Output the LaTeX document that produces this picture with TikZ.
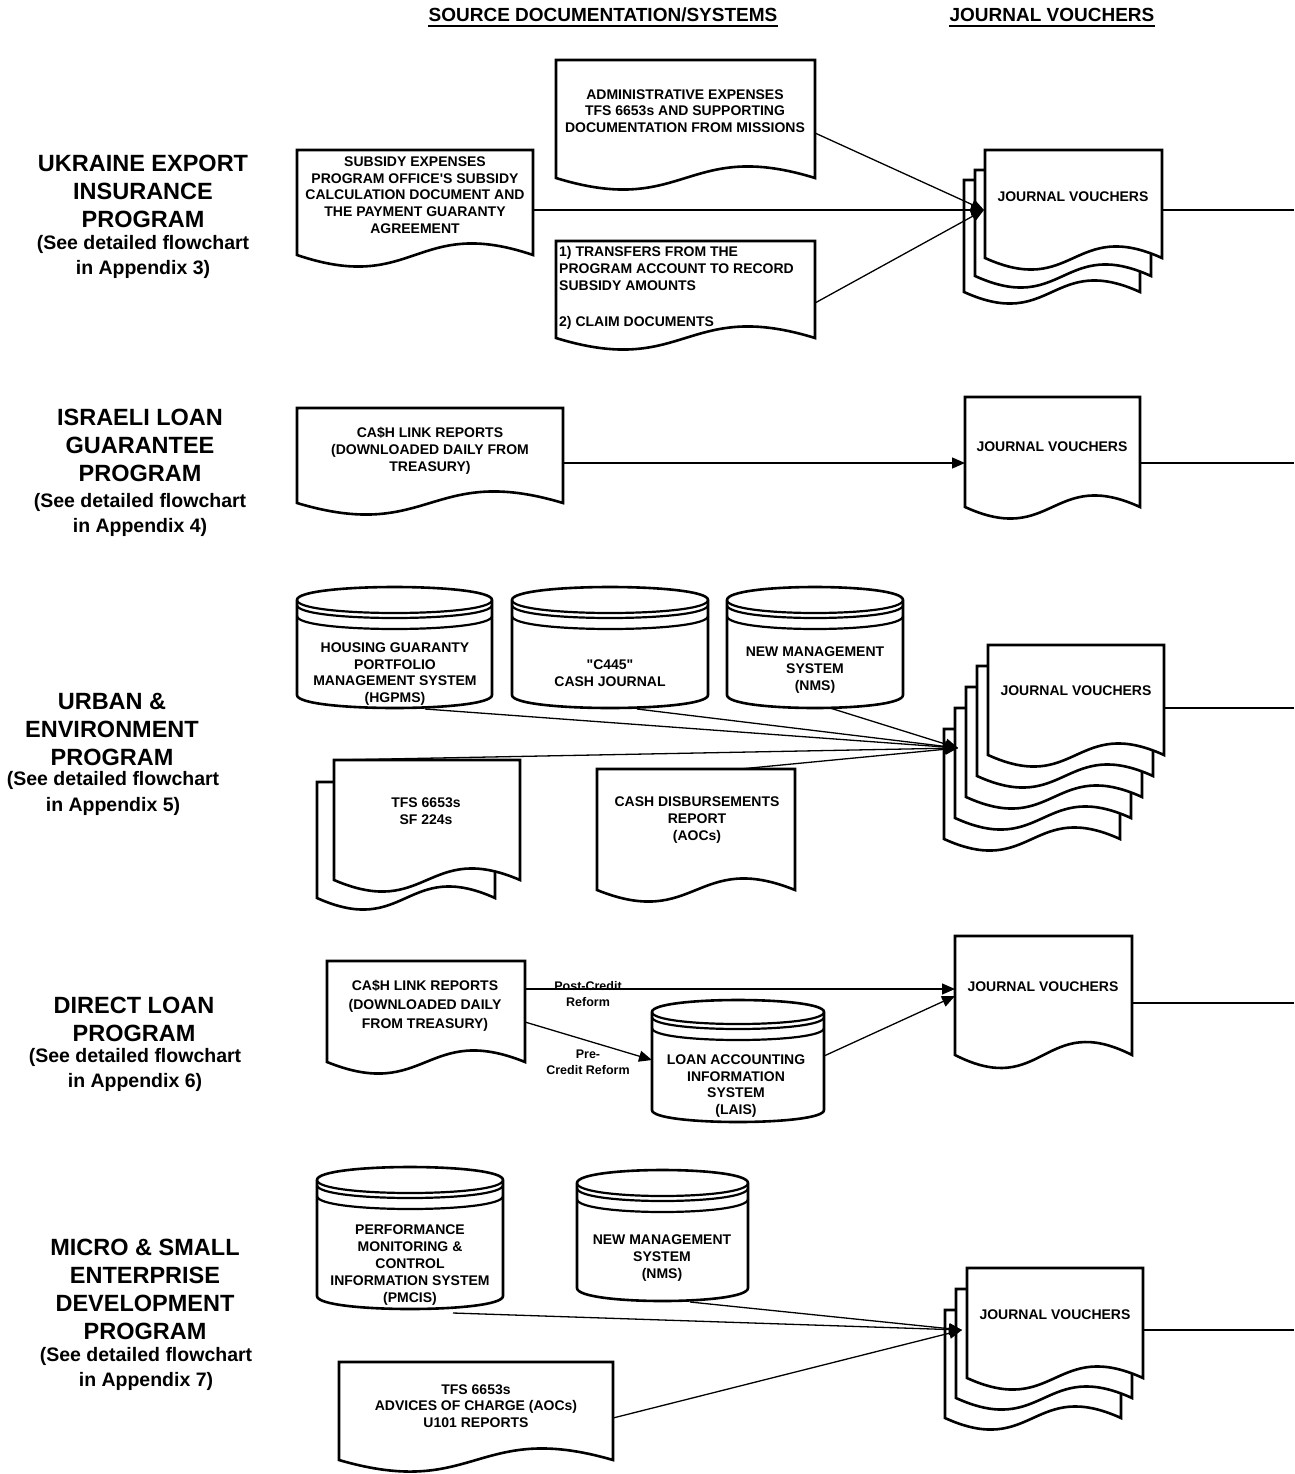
\documentclass[tikz,border=0pt]{standalone}
\usepackage{fontspec}
\setmainfont{Liberation Sans}[Ligatures=TeXOff]
\usetikzlibrary{arrows.meta}
\tikzset{
 shapebox/.style={draw=black, line width=2.6pt, fill=white, line join=miter},
 bandline/.style={draw=black, line width=2.2pt},
 conn/.style={draw=black, line width=1.3pt},
 arr/.style={conn, -{Triangle[length=13pt,width=11pt]}},
 boxtext/.style={font=\bfseries\fontsize{14}{16.8}\selectfont, align=center, inner sep=0pt},
 headtext/.style={font=\bfseries\fontsize{23.5}{28}\selectfont, align=center, inner sep=0pt},
 subtext/.style={font=\bfseries\fontsize{19.5}{25.5}\selectfont, align=center, inner sep=0pt},
 coltext/.style={font=\bfseries\fontsize{19}{22}\selectfont, inner sep=0pt},
 smalltext/.style={font=\bfseries\fontsize{12.5}{16}\selectfont, align=center, inner sep=0pt},
}
% document shape: left, top, right, bottom (side ends), wave control
\newcommand\docshape[5]{%
  \draw[shapebox] (#1,#2) -- (#3,#2) -- (#3,#4)
    .. controls ({(#1+#3)/2},{#4-#5}) and ({(#1+#3)/2},{#4+#5}) .. (#1,#4) -- cycle;}
% cylinder: left, top, right, bottom (side ends), ellipse radius
\newcommand\cylshape[5]{%
  \draw[shapebox] (#1,{#2+#5}) -- (#1,#4)
    .. controls (#1,{#4+1.333*#5}) and (#3,{#4+1.333*#5}) .. (#3,#4)
    -- (#3,{#2+#5})
    .. controls (#3,{#2-0.333*#5}) and (#1,{#2-0.333*#5}) .. cycle;
  \draw[bandline] (#1,{#2+#5}) .. controls (#1,{#2+2.333*#5}) and (#3,{#2+2.333*#5}) .. (#3,{#2+#5});
  \draw[bandline] (#1,{#2+#5+5}) .. controls (#1,{#2+2.333*#5+5}) and (#3,{#2+2.333*#5+5}) .. (#3,{#2+#5+5});
  \draw[bandline] (#1,{#2+#5+16}) .. controls (#1,{#2+2.333*#5+16}) and (#3,{#2+2.333*#5+16}) .. (#3,{#2+#5+16});}
\begin{document}
\begin{tikzpicture}[x=1pt,y=-1pt]
\useasboundingbox (0,0) rectangle (1294,1474);
\fill[white] (0,0) rectangle (1294,1474);

% column headers
\node[coltext] (hsrc) at (603,15) {SOURCE DOCUMENTATION/SYSTEMS};
\node[coltext] (hjv) at (1052,15) {JOURNAL VOUCHERS};
\draw[line width=1.8pt] ([yshift=-4pt]hsrc.south west) -- ([yshift=-4pt]hsrc.south east);
\draw[line width=1.8pt] ([yshift=-4pt]hjv.south west) -- ([yshift=-4pt]hjv.south east);

% ---------- Section 1: Ukraine ----------
\node[headtext] (l1h) at (143,191.5) {UKRAINE EXPORT\\INSURANCE\\PROGRAM};
\node[subtext] (l1s) at (143,257) {(See detailed flowchart\\in Appendix 3)};

\docshape{556}{60}{815}{178}{40}
\node[boxtext] (admtxt) at (685,111) {ADMINISTRATIVE EXPENSES\\TFS 6653s AND SUPPORTING\\DOCUMENTATION FROM MISSIONS};
\docshape{297}{150}{533}{255}{40}
\node[boxtext] (subtxt) at (415,195) {SUBSIDY EXPENSES\\PROGRAM OFFICE'S SUBSIDY\\CALCULATION DOCUMENT AND\\THE PAYMENT GUARANTY\\AGREEMENT};
\docshape{556}{241}{815}{338}{40}
\node[boxtext, align=left, anchor=west] (trftxt) at (559,288) {1) TRANSFERS FROM THE\\PROGRAM ACCOUNT TO RECORD\\SUBSIDY AMOUNTS\\[20pt]2) CLAIM DOCUMENTS};

\docshape{964}{180}{1140}{292}{40}
\docshape{975}{170}{1151}{276}{40}
\docshape{985}{150}{1162}{258}{40}
\node[boxtext] (jv1txt) at (1073,197) {JOURNAL VOUCHERS};

\coordinate (adm-o) at (815,133);
\coordinate (sub-o) at (533,210);
\coordinate (trf-o) at (815,303);
\coordinate (jv1-i) at (984,210);
\coordinate (jv1-o) at (1162,210);
\coordinate (edge1) at (1294,210);
\draw[arr] (adm-o) -- (jv1-i);
\draw[arr] (sub-o) -- (jv1-i);
\draw[arr] (trf-o) -- (jv1-i);
\draw[conn] (jv1-o) -- (edge1);

% ---------- Section 2: Israeli ----------
\node[headtext] (l2h) at (140,445.5) {ISRAELI LOAN\\GUARANTEE\\PROGRAM};
\node[subtext] (l2s) at (140,515) {(See detailed flowchart\\in Appendix 4)};

\docshape{297}{408}{563}{503}{40}
\node[boxtext] (cl1txt) at (430,451) {CA\$H LINK REPORTS\\(DOWNLOADED DAILY FROM\\TREASURY)};
\docshape{965}{397}{1140}{507}{40}
\node[boxtext] (jv2txt) at (1052,447) {JOURNAL VOUCHERS};

\coordinate (cl1-o) at (563,463);
\coordinate (jv2-i) at (965,463);
\coordinate (jv2-o) at (1140,463);
\coordinate (edge2) at (1294,463);
\draw[arr] (cl1-o) -- (jv2-i);
\draw[conn] (jv2-o) -- (edge2);

% ---------- Section 3: Urban ----------
\node[headtext] (l3h) at (112,729.5) {URBAN \&\\ENVIRONMENT\\PROGRAM};
\node[subtext] (l3s) at (113,793.5) {(See detailed flowchart\\in Appendix 5)};

\cylshape{297}{587}{492}{695}{13}
\node[boxtext] (hgtxt) at (395,674) {HOUSING GUARANTY\\PORTFOLIO\\MANAGEMENT SYSTEM\\(HGPMS)};
\cylshape{512}{587}{708}{695}{13}
\node[boxtext] (c445txt) at (610,673) {"C445"\\CASH JOURNAL};
\cylshape{727}{587}{903}{695}{13}
\node[boxtext] (nmstxt) at (815,670) {NEW MANAGEMENT\\SYSTEM\\(NMS)};

\docshape{317}{782}{495}{898}{40}
\docshape{334}{760}{520}{880}{40}
\node[boxtext] (tfstxt) at (426,811) {TFS 6653s\\SF 224s};
\docshape{597}{769}{795}{890}{40}
\node[boxtext] (cdrtxt) at (697,820) {CASH DISBURSEMENTS\\REPORT\\(AOCs)};

\docshape{944}{729}{1120}{839}{40}
\docshape{955}{708}{1131}{818}{40}
\docshape{966}{687}{1142}{797}{40}
\docshape{977}{666}{1153}{776}{40}
\docshape{988}{645}{1164}{755}{40}
\node[boxtext] (jv3txt) at (1076,691) {JOURNAL VOUCHERS};

\coordinate (hg-o) at (425,709);
\coordinate (c445-o) at (637,709);
\coordinate (nms-o) at (830,708);
\coordinate (tfs-o) at (334,760);
\coordinate (cdr-o) at (740,769);
\coordinate (jv3-i) at (958,748);
\coordinate (jv3-o) at (1164,708);
\coordinate (edge3) at (1294,708);
\draw[arr] (hg-o) -- (jv3-i);
\draw[arr] (c445-o) -- (jv3-i);
\draw[arr] (nms-o) -- (jv3-i);
\draw[arr] (tfs-o) -- (jv3-i);
\draw[arr] (cdr-o) -- (jv3-i);
\draw[conn] (jv3-o) -- (edge3);

% ---------- Section 4: Direct Loan ----------
\node[headtext] (l4h) at (134,1019.5) {DIRECT LOAN\\PROGRAM};
\node[subtext] (l4s) at (135,1070) {(See detailed flowchart\\in Appendix 6)};

\docshape{327}{961}{525}{1062}{40}
\node[boxtext, font=\bfseries\fontsize{14}{19}\selectfont] (cl2txt) at (425,1006) {CA\$H LINK REPORTS\\(DOWNLOADED DAILY\\FROM TREASURY)};
\cylshape{652}{1000}{824}{1110}{12}
\node[boxtext] (laistxt) at (736,1086) {LOAN ACCOUNTING\\INFORMATION\\SYSTEM\\(LAIS)};
\docshape{955}{936}{1132}{1055}{45}
\node[boxtext] (jv4txt) at (1043,987) {JOURNAL VOUCHERS};

\node[smalltext] (posttxt) at (588,994) {Post-Credit\\Reform};
\node[smalltext] (pretxt) at (588,1062) {Pre-\\Credit Reform};

\coordinate (cl2-o1) at (525,989);
\coordinate (cl2-o2) at (525,1022);
\coordinate (lais-i) at (652,1060);
\coordinate (lais-o) at (824,1056);
\coordinate (jv4-i1) at (955,989);
\coordinate (jv4-i2) at (955,996);
\coordinate (jv4-o) at (1132,1003);
\coordinate (edge4) at (1294,1003);
\draw[arr] (cl2-o1) -- (jv4-i1);
\draw[arr] (cl2-o2) -- (lais-i);
\draw[arr] (lais-o) -- (jv4-i2);
\draw[conn] (jv4-o) -- (edge4);

% ---------- Section 5: Micro & Small ----------
\node[headtext] (l5h) at (145,1289.5) {MICRO \& SMALL\\ENTERPRISE\\DEVELOPMENT\\PROGRAM};
\node[subtext] (l5s) at (146,1369) {(See detailed flowchart\\in Appendix 7)};

\cylshape{317}{1167}{503}{1296}{13}
\node[boxtext] (pmtxt) at (410,1265) {PERFORMANCE\\MONITORING \&\\CONTROL\\INFORMATION SYSTEM\\(PMCIS)};
\cylshape{577}{1170}{748}{1288}{13}
\node[boxtext] (nms2txt) at (662,1258) {NEW MANAGEMENT\\SYSTEM\\(NMS)};
\docshape{339}{1362}{613}{1460}{40}
\node[boxtext] (tfs2txt) at (476,1406) {TFS 6653s\\ADVICES OF CHARGE (AOCs)\\U101 REPORTS};

\docshape{945}{1310}{1121}{1418}{40}
\docshape{956}{1289}{1132}{1398}{40}
\docshape{967}{1268}{1143}{1378}{40}
\node[boxtext] (jv5txt) at (1055,1315) {JOURNAL VOUCHERS};

\coordinate (pm-o) at (453,1313);
\coordinate (nms2-o) at (690,1302);
\coordinate (tfs2-o) at (613,1418);
\coordinate (jv5-i) at (962,1330);
\coordinate (jv5-o) at (1143,1330);
\coordinate (edge5) at (1294,1330);
\draw[arr] (pm-o) -- (jv5-i);
\draw[arr] (nms2-o) -- (jv5-i);
\draw[arr] (tfs2-o) -- (jv5-i);
\draw[conn] (jv5-o) -- (edge5);
\end{tikzpicture}
\end{document}
